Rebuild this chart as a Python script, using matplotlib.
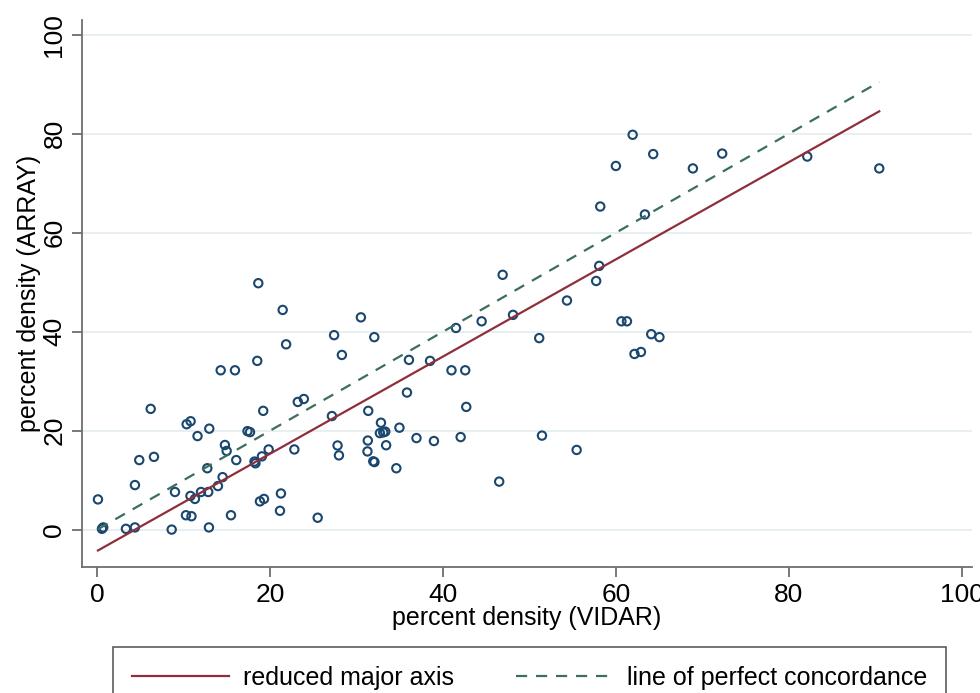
import matplotlib
matplotlib.use('Agg')
import matplotlib.pyplot as plt
import numpy as np

plt.rcParams['font.family'] = ['Liberation Sans', 'DejaVu Sans']

# percent density, one pair per woman
vidar = [0.08, 0.54, 0.69, 3.32, 4.36, 4.36, 4.86, 6.18, 6.56, 8.61,
         8.99, 10.34, 10.8, 10.26, 10.9, 10.78, 11.3, 11.6, 12.0, 12.84,
         12.73, 12.96, 12.92, 13.96, 14.5, 14.28, 14.77, 14.97, 15.47, 15.93,
         16.08, 17.38, 17.67, 18.19, 18.3, 18.51, 18.63, 18.82, 19.29, 19.05,
         19.2, 19.83, 21.25, 21.14, 21.45, 21.85, 22.8, 23.2, 23.9, 25.5,
         27.15, 27.4, 27.8, 27.96, 28.3, 30.5, 31.35, 31.3, 31.26, 31.93,
         32.07, 32.05, 32.82, 32.7, 33.09, 33.32, 33.42, 34.6, 34.96, 35.83,
         36.06, 36.93, 38.5, 38.95, 40.98, 41.5, 42.04, 42.57, 42.69, 44.47,
         46.5, 46.9, 48.1, 51.13, 51.45, 54.34, 55.46, 57.72, 58.07, 58.19,
         60.0, 60.64, 61.28, 61.94, 62.15, 62.9, 63.36, 64.09, 64.32, 65.04,
         68.91, 72.3, 82.14, 90.47]
array = [6.1, 0.16, 0.44, 0.16, 0.44, 9.0, 14.05, 24.4, 14.7, 0.0,
         7.6, 21.3, 21.9, 2.9, 2.7, 6.8, 6.2, 18.9, 7.6, 7.6,
         12.4, 20.4, 0.44, 8.8, 10.6, 32.2, 17.1, 15.9, 2.9, 32.2,
         14.05, 19.9, 19.7, 13.75, 13.4, 34.1, 49.8, 5.7, 6.2, 14.8,
         24.0, 16.2, 7.3, 3.8, 44.4, 37.45, 16.2, 25.8, 26.4, 2.4,
         22.95, 39.3, 17.0, 15.0, 35.3, 42.9, 24.0, 18.0, 15.8, 13.8,
         13.65, 38.9, 21.6, 19.5, 19.65, 19.8, 17.05, 12.4, 20.6, 27.7,
         34.3, 18.5, 34.1, 17.9, 32.2, 40.75, 18.7, 32.2, 24.8, 42.1,
         9.7, 51.5, 43.4, 38.7, 19.0, 46.3, 16.1, 50.25, 53.3, 65.3,
         73.5, 42.1, 42.1, 79.8, 35.5, 35.9, 63.7, 39.5, 75.9, 38.9,
         73.0, 76.0, 75.4, 73.0]

# reduced major axis fit as drawn in the original
rma_intercept = -4.3
rma_slope = 0.982

ticks = [0, 20, 40, 60, 80, 100]

fig = plt.figure(figsize=(9.8, 6.93), dpi=100)
ax = fig.add_axes([81.7 / 980, 1 - 566.7 / 693, (972 - 81.7) / 980, (566.7 - 20) / 693])

x = np.array(vidar)
y = np.array(array)
xl = np.array([x.min(), x.max()])

ax.scatter(x, y, s=36, facecolors='none', edgecolors='#1a476f', linewidths=1.5, zorder=3)
ax.plot(xl, rma_intercept + rma_slope * xl, color='#8e2f3b', lw=1.6, zorder=4,
        label='reduced major axis')
ax.plot(xl, xl, color='#3a6e5f', lw=1.6, ls=(0, (5, 4)), zorder=4,
        label='line of perfect concordance')

ax.set_xlim(-1.8, 101.2)
ax.set_ylim(-7.5, 103)
ax.set_xticks(ticks)
ax.set_yticks(ticks)
ax.grid(axis='y', color='#e6eef0', lw=1.3, zorder=0)
ax.set_axisbelow(True)

for s in ['top', 'right']:
    ax.spines[s].set_visible(False)
for s in ['left', 'bottom']:
    ax.spines[s].set_color('#6e6e6e')
    ax.spines[s].set_linewidth(1.3)
ax.tick_params(axis='both', length=7, width=1.3, color='#6e6e6e', labelsize=19)
ax.tick_params(axis='x', pad=5)
ax.tick_params(axis='y', pad=4)
for lab in ax.get_yticklabels():
    lab.set_rotation(90)
    lab.set_va('center')

ax.set_xlabel('percent density (VIDAR)', fontsize=18, labelpad=-1)
ax.set_ylabel('percent density (ARRAY)', fontsize=18, labelpad=1)

leg = fig.legend(loc='upper left', bbox_to_anchor=(113 / 980, -0.2, 833 / 980, 0.2 + 46 / 693),
                 mode='expand', ncol=2, fontsize=18, frameon=True, fancybox=False,
                 handlelength=3.9, handletextpad=0.55, borderpad=0.75, borderaxespad=0)
leg.get_frame().set_edgecolor('#333333')
leg.get_frame().set_linewidth(1.2)

fig.savefig('out.png', dpi=100)
